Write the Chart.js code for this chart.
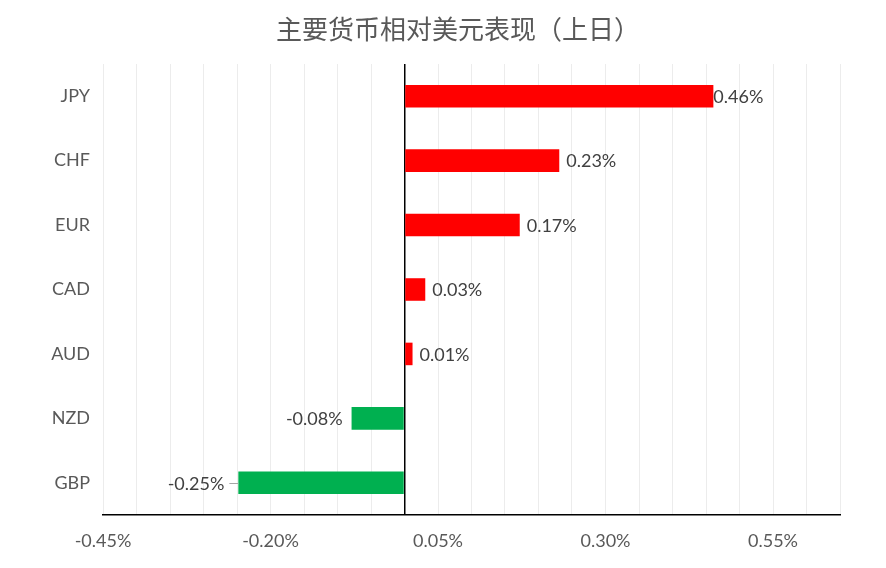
<!DOCTYPE html>
<html>
<head>
<meta charset="utf-8">
<script src="https://cdn.jsdelivr.net/npm/chart.js@4.4.1/dist/chart.umd.min.js"></script>
<style>
  html, body { margin: 0; padding: 0; background: #ffffff; }
  #wrap { width: 886px; height: 568px; position: relative; }
</style>
</head>
<body>
<div id="wrap"><canvas id="c" width="886" height="568"></canvas></div>
<script>
const titleText = '主要货币相对美元表现（上日）';
const categories = ['JPY', 'CHF', 'EUR', 'CAD', 'AUD', 'NZD', 'GBP'];
const changes = [0.461, 0.231, 0.172, 0.031, 0.012, -0.079, -0.248];
const axisMin = -0.45;
const axisMax = 0.65;
const axisStep = 0.05;

const POS = '#FF0000';
const NEG = '#00B050';

const titlePlugin = {
  id: 'customTitle',
  afterDraw(chart) {
    const ctx = chart.ctx;
    ctx.save();
    ctx.font = '26px "Noto Sans CJK SC", sans-serif';
    ctx.fillStyle = '#595959';
    ctx.textAlign = 'center';
    ctx.textBaseline = 'middle';
    ctx.fillText(titleText, 458, 29);
    ctx.restore();
  }
};

const valueLabels = {
  id: 'valueLabels',
  afterDatasetsDraw(chart, args, opts) {
    const ctx = chart.ctx;
    const meta = chart.getDatasetMeta(0);
    ctx.save();
    ctx.font = '18px Lato, sans-serif';
    ctx.fillStyle = '#404040';
    ctx.textBaseline = 'middle';
    meta.data.forEach((bar, i) => {
      const v = chart.data.datasets[0].data[i];
      const txt = v.toFixed(2) + '%';
      const gap = opts.gaps[i];
      if (v >= 0) {
        ctx.textAlign = 'left';
        ctx.fillText(txt, bar.x + gap, bar.y + 1);
      } else {
        ctx.textAlign = 'right';
        ctx.fillText(txt, bar.x - gap, bar.y + 1);
        if (opts.leaders[i]) {
          ctx.strokeStyle = '#a6a6a6';
          ctx.lineWidth = 1;
          ctx.beginPath();
          ctx.moveTo(bar.x - opts.leaders[i], Math.round(bar.y) + 0.5);
          ctx.lineTo(bar.x, Math.round(bar.y) + 0.5);
          ctx.stroke();
        }
      }
    });
    ctx.restore();
  }
};

new Chart(document.getElementById('c'), {
  type: 'bar',
  data: {
    labels: categories,
    datasets: [{
      data: changes,
      backgroundColor: changes.map(v => v >= 0 ? POS : NEG),
      borderWidth: 0,
      categoryPercentage: 1.0,
      barPercentage: 0.35
    }]
  },
  options: {
    indexAxis: 'y',
    responsive: false,
    animation: false,
    devicePixelRatio: 1,
    layout: { padding: { left: 0, right: 46, top: 64, bottom: 13 } },
    plugins: {
      legend: { display: false },
      title: { display: false },
      tooltip: { enabled: false },
      valueLabels: { gaps: [0, 7, 7, 7, 7, 9, 14], leaders: [0, 0, 0, 0, 0, 0, 9] }
    },
    scales: {
      x: {
        type: 'linear',
        min: axisMin,
        max: axisMax,
        afterFit(scale) { scale.height = 40; },
        ticks: {
          stepSize: axisStep,
          autoSkip: false,
          maxRotation: 0,
          padding: 15,
          color: '#595959',
          font: { family: 'Lato', size: 18 },
          callback: (val, idx) => idx % 5 === 0 ? Number(val).toFixed(2) + '%' : ''
        },
        grid: {
          drawTicks: false,
          color: ctx => (ctx.tick && Math.abs(ctx.tick.value) < 1e-9) ? '#000000' : '#ececec',
          lineWidth: ctx => (ctx.tick && Math.abs(ctx.tick.value) < 1e-9) ? 1.5 : 1
        },
        border: { display: true, color: '#000000', width: 1.5 }
      },
      y: {
        afterFit(scale) { scale.width = 103; },
        ticks: {
          padding: 13,
          color: '#595959',
          font: { family: 'Lato', size: 18 }
        },
        grid: { display: false, drawTicks: false },
        border: { display: false }
      }
    }
  },
  plugins: [titlePlugin, valueLabels]
});
</script>
</body>
</html>
